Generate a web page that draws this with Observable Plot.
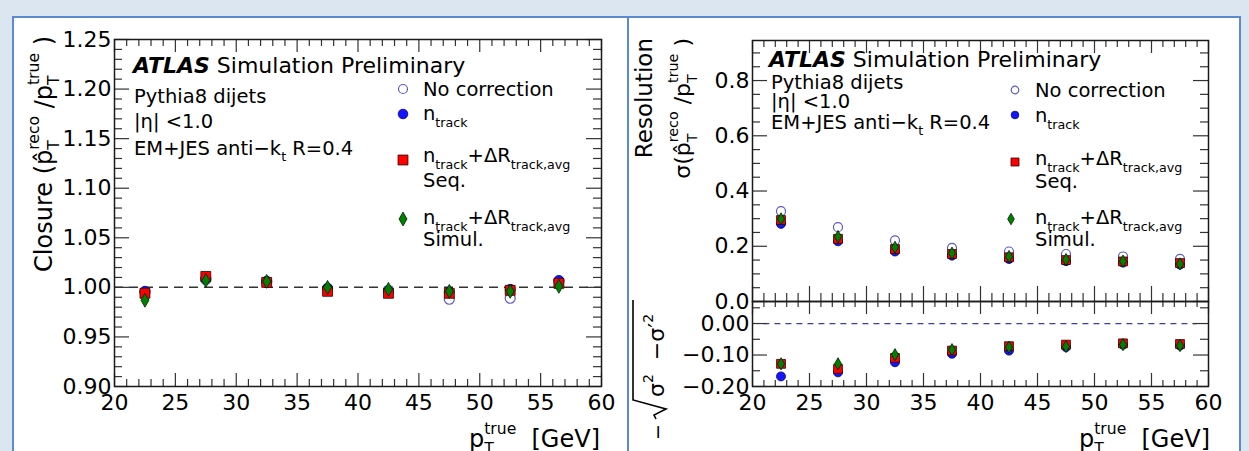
<!DOCTYPE html>
<html><head><meta charset="utf-8">
<script src="https://cdn.jsdelivr.net/npm/d3@7"></script>
<script src="https://cdn.jsdelivr.net/npm/@observablehq/plot@0.6"></script>
<style>
body{margin:0;background:#dce6f1;}
#page{position:relative;width:1249px;height:451px;overflow:hidden;background:#dce6f1;font-family:"DejaVu Sans";}
.panel{position:absolute;background:#fff;border:2px solid #5b8ad0;box-sizing:border-box;}
#page svg{position:absolute;left:0;top:0;}
</style></head><body><div id="page">
<div class="panel" style="left:12px;top:16px;width:617px;height:445px"></div>
<div class="panel" style="left:627px;top:16px;width:614px;height:445px"></div>
</div>
<script>
// ---------------- data ----------------
const xLeft  = [22.5, 27.5, 32.5, 37.5, 42.5, 47.5, 52.5, 56.5];
const closureNoCorr = [0.995, 1.008, 1.006, 0.999, 0.997, 0.988, 0.989, 1.006];
const closureNtrack = [0.996, 1.009, 1.006, 0.999, 0.996, 0.995, 0.998, 1.007];
const closureSeq    = [0.994, 1.011, 1.005, 0.996, 0.994, 0.994, 0.997, 1.004];
const closureSimul  = [0.987, 1.007, 1.006, 1.000, 0.998, 0.996, 0.996, 1.001];

const xRight = [22.5, 27.5, 32.5, 37.5, 42.5, 47.5, 52.5, 57.5];
const resNoCorr = [0.327, 0.269, 0.221, 0.194, 0.181, 0.172, 0.163, 0.154];
const resNtrack = [0.281, 0.218, 0.181, 0.166, 0.154, 0.146, 0.141, 0.134];
const resSeq    = [0.295, 0.227, 0.190, 0.172, 0.160, 0.150, 0.145, 0.139];
const resSimul  = [0.299, 0.235, 0.196, 0.175, 0.163, 0.152, 0.146, 0.136];

const diffNtrack = [-0.168, -0.155, -0.123, -0.096, -0.086, -0.075, -0.067, -0.070];
const diffSeq    = [-0.128, -0.144, -0.109, -0.086, -0.072, -0.067, -0.063, -0.065];
const diffSimul  = [-0.128, -0.128, -0.099, -0.083, -0.075, -0.073, -0.067, -0.070];

// tick labels
const xTicks = [20, 25, 30, 35, 40, 45, 50, 55, 60];
const closureTicks = [0.90, 0.95, 1.00, 1.05, 1.10, 1.15, 1.20, 1.25];
const resTicks = [0.0, 0.2, 0.4, 0.6, 0.8];
const diffTicks = [-0.20, -0.10, 0.00];

// minor ticks
const xMinor = d3.range(20, 60.01, 1);
const closureMinor = d3.range(0.90, 1.2501, 0.01);
const resMinor = d3.range(0, 0.95, 0.05);
const diffMinor = [-0.15, -0.05, 0.05];

// ---------------- helpers ----------------
const page = document.getElementById("page");
const svgStyle = "position:absolute;left:0;top:0;background:transparent;overflow:visible;font-family:'DejaVu Sans';font-size:22px;color:#000;";
const pts = (xs, ys) => xs.map((x, i) => ({x, y: ys[i]}));

function ticks(xMaj, xMin, yMaj, yMin, FW, FH, L) {
  const s = {stroke: "#333", strokeWidth: 1.2};
  const notIn = (arr) => (d) => !arr.some(v => Math.abs(v - d) < 1e-9);
  const xm = xMin.filter(notIn(xMaj)), ym = yMin.filter(notIn(yMaj));
  const out = [];
  if (L.bottom) {
    out.push(Plot.tickX(xMaj, {x: d => d, insetTop: FH - L.bottom[0], ...s}));
    out.push(Plot.tickX(xm, {x: d => d, insetTop: FH - L.bottom[1], ...s}));
  }
  if (L.top) {
    out.push(Plot.tickX(xMaj, {x: d => d, insetBottom: FH - L.top[0], ...s}));
    out.push(Plot.tickX(xm, {x: d => d, insetBottom: FH - L.top[1], ...s}));
  }
  out.push(Plot.tickY(yMaj, {y: d => d, insetRight: FW - L.y[0], ...s}));
  out.push(Plot.tickY(ym, {y: d => d, insetRight: FW - L.y[1], ...s}));
  out.push(Plot.tickY(yMaj, {y: d => d, insetLeft: FW - L.y[0], ...s}));
  out.push(Plot.tickY(ym, {y: d => d, insetLeft: FW - L.y[1], ...s}));
  return out;
}

const sty = {
  open:  {symbol: "circle", fill: "none", stroke: "#5a5ac8", strokeWidth: 1.2},
  blue:  {symbol: "circle", fill: "#1414ff", stroke: "#00007a", strokeWidth: 0.8},
  red:   {symbol: "square", fill: "#ff0000", stroke: "#300000", strokeWidth: 0.8},
  green: {symbol: "diamond", fill: "#008000", stroke: "#002000", strokeWidth: 0.8}
};

// ---------------- left: closure ----------------
const L = {l: 114, r: 601, t: 39, b: 386};
const leftPlot = Plot.plot({
  width: 1249, height: 451,
  marginLeft: L.l, marginRight: 1249 - L.r, marginTop: L.t, marginBottom: 451 - L.b,
  style: svgStyle,
  x: {domain: [20, 60]},
  y: {domain: [0.90, 1.25]},
  marks: [
    Plot.ruleY([1.0], {x1: 20, x2: 60, stroke: "#333", strokeWidth: 1.5, strokeDasharray: "9,6"}),
    ...ticks(xTicks, xMinor, closureTicks, closureMinor, L.r - L.l, L.b - L.t,
             {bottom: [13, 7], top: [13, 7], y: [15, 8]}),
    Plot.dot(pts(xLeft, closureNoCorr), {x: "x", y: "y", r: 5, ...sty.open}),
    Plot.dot(pts(xLeft, closureNtrack), {x: "x", y: "y", r: 5, ...sty.blue}),
    Plot.dot(pts(xLeft, closureSeq), {x: "x", y: "y", r: 5.6, ...sty.red}),
    Plot.dot(pts(xLeft, closureSimul), {x: "x", y: "y", r: 4.2, ...sty.green}),
    Plot.frame({stroke: "#1a1a1a", strokeWidth: 1.5}),
    Plot.axisX({ticks: xTicks, tickSize: 0, tickPadding: 8, tickFormat: d => d, label: null, fontSize: 22}),
    Plot.axisY({ticks: closureTicks, tickSize: 0, tickPadding: 3, tickFormat: d3.format(".2f"), label: null, fontSize: 22})
  ]
});
page.appendChild(leftPlot);

// ---------------- right upper: resolution ----------------
const RU = {l: 752, r: 1208, t: 40, b: 301};
const ruPlot = Plot.plot({
  width: 1249, height: 451,
  marginLeft: RU.l, marginRight: 1249 - RU.r, marginTop: RU.t, marginBottom: 451 - RU.b,
  style: svgStyle,
  x: {domain: [20, 60], axis: null},
  y: {domain: [0, 0.945]},
  marks: [
    ...ticks(xTicks, xMinor, resTicks, resMinor, RU.r - RU.l, RU.b - RU.t,
             {bottom: [15, 8], top: [13, 7], y: [15, 8]}),
    Plot.dot(pts(xRight, resNoCorr), {x: "x", y: "y", r: 4.5, ...sty.open}),
    Plot.dot(pts(xRight, resNtrack), {x: "x", y: "y", r: 4.5, ...sty.blue}),
    Plot.dot(pts(xRight, resSeq), {x: "x", y: "y", r: 5, ...sty.red}),
    Plot.dot(pts(xRight, resSimul), {x: "x", y: "y", r: 3.7, ...sty.green}),
    Plot.frame({stroke: "#1a1a1a", strokeWidth: 1.5}),
    Plot.axisY({ticks: resTicks, tickSize: 0, tickPadding: 3, tickFormat: d3.format(".1f"), label: null, fontSize: 22})
  ]
});
page.appendChild(ruPlot);

// ---------------- right lower: difference ----------------
const RL = {l: 752, r: 1208, t: 301, b: 386};
const rlPlot = Plot.plot({
  width: 1249, height: 451,
  marginLeft: RL.l, marginRight: 1249 - RL.r, marginTop: RL.t, marginBottom: 451 - RL.b,
  style: svgStyle,
  x: {domain: [20, 60]},
  y: {domain: [-0.20, 0.07]},
  marks: [
    Plot.ruleY([0], {x1: 21, x2: 59, stroke: "#3c3cb4", strokeWidth: 1.3, strokeDasharray: "6,5"}),
    ...ticks(xTicks, xMinor, diffTicks, diffMinor, RL.r - RL.l, RL.b - RL.t,
             {bottom: [13, 6], top: [13, 6], y: [15, 8]}),
    Plot.dot(pts(xRight, diffNtrack), {x: "x", y: "y", r: 4.5, ...sty.blue}),
    Plot.dot(pts(xRight, diffSeq), {x: "x", y: "y", r: 5, ...sty.red}),
    Plot.dot(pts(xRight, diffSimul), {x: "x", y: "y", r: 3.7, ...sty.green}),
    Plot.frame({stroke: "#1a1a1a", strokeWidth: 1.5}),
    Plot.axisX({ticks: xTicks, tickSize: 0, tickPadding: 8, tickFormat: d => d, label: null, fontSize: 22}),
    Plot.axisY({ticks: diffTicks, tickSize: 0, tickPadding: 3, tickFormat: d3.format(".2f"), label: null, fontSize: 22})
  ]
});
page.appendChild(rlPlot);

// ---------------- text overlay ----------------
const over = d3.select(page).append("svg")
  .attr("width", 1249).attr("height", 451)
  .attr("style", "position:absolute;left:0;top:0;overflow:visible;font-family:'DejaVu Sans';");

function rich(x, y, parts, o = {}) {
  const size = o.size || 20;
  const sc = o.script || 0.65;
  const g = over.append("g");
  const inner = g.append("g");
  let cx = 0;
  const add = (t, px, py, fs, ex = {}) => {
    const el = inner.append("text").attr("x", px).attr("y", py)
      .attr("font-size", fs).attr("fill", "#000").style("white-space", "pre").text(t);
    if (ex.weight) el.attr("font-weight", ex.weight);
    if (ex.italic) el.attr("font-style", "italic");
    return el.node().getComputedTextLength();
  };
  for (const p of parts) {
    if (typeof p === "string") cx += add(p, cx, 0, size);
    else if (p.sub !== undefined || p.sup !== undefined) {
      let w = 0;
      if (p.sup) w = Math.max(w, add(p.sup, cx, -(o.supShift || 0.5) * size, sc * size));
      if (p.sub) w = Math.max(w, add(p.sub, cx, (o.subShift || 0.3) * size, sc * size));
      cx += w;
    } else cx += add(p.t, cx, 0, p.size || size, p);
  }
  if (o.anchor === "end") inner.attr("transform", `translate(${-cx},0)`);
  g.attr("transform", `translate(${x},${y})` + (o.rotate ? ` rotate(${o.rotate})` : ""));
  return cx;
}

function marker(kind, x, y, r) {
  const s = sty[kind];
  over.append("path")
    .attr("transform", `translate(${x},${y})`)
    .attr("d", d3.symbol(s.symbol === "circle" ? d3.symbolCircle : s.symbol === "square" ? d3.symbolSquare : d3.symbolDiamond, Math.PI * r * r)())
    .attr("fill", s.fill).attr("stroke", s.stroke).attr("stroke-width", s.strokeWidth);
}

const nDR = ["n", {sub: "track"}, "+ΔR", {sub: "track,avg"}];

// left panel info + legend
rich(133, 73, [{t: "ATLAS", weight: "bold", italic: true}, " Simulation Preliminary"], {size: 22});
rich(134, 103, ["Pythia8 dijets"], {size: 19.5});
rich(134, 128, ["|η| <1.0"], {size: 19.5});
rich(134, 155, ["EM+JES anti−k", {sub: "t"}, " R=0.4"], {size: 19.5, subShift: 0.3});
marker("open", 403, 89, 4.5);
marker("blue", 403, 114, 4.8);
marker("red", 403, 160, 5.6);
marker("green", 403, 219, 4.2);
rich(423, 96, ["No correction"], {size: 19.5});
rich(423, 120, ["n", {sub: "track"}], {size: 19.5, subShift: 0.35});
rich(423, 162, nDR, {size: 19.5, subShift: 0.35});
rich(423, 187, ["Seq."], {size: 19.5});
rich(423, 224, nDR, {size: 19.5, subShift: 0.35});
rich(423, 246, ["Simul."], {size: 19.5});

// right panel info + legend
rich(769, 67, [{t: "ATLAS", weight: "bold", italic: true}, " Simulation Preliminary"], {size: 22});
rich(771, 89, ["Pythia8 dijets"], {size: 19.5});
rich(771, 108, ["|η| <1.0"], {size: 19.5});
rich(771, 129, ["EM+JES anti−k", {sub: "t"}, " R=0.4"], {size: 19.5, subShift: 0.3});
marker("open", 1015, 90, 3.8);
marker("blue", 1015, 115, 3.8);
marker("red", 1015, 162, 4.5);
marker("green", 1011, 219, 3.5);
rich(1035, 97, ["No correction"], {size: 19.5});
rich(1035, 122, ["n", {sub: "track"}], {size: 19.5, subShift: 0.35});
rich(1035, 165, nDR, {size: 19.5, subShift: 0.35});
rich(1035, 188, ["Seq."], {size: 19.5});
rich(1035, 224, nDR, {size: 19.5, subShift: 0.35});
rich(1035, 246, ["Simul."], {size: 19.5});

// axis titles
const xTitle = ["p", {sub: "T", sup: "true"}, "  [GeV]"];
rich(600, 447, xTitle, {size: 24, anchor: "end", supShift: 0.55, subShift: 0.3});
rich(1210, 447, xTitle, {size: 24, anchor: "end", supShift: 0.55, subShift: 0.3});

rich(52, 36, ["Closure (p\u0302", {sub: "T", sup: "reco"}, " /p", {sub: "T", sup: "true"}, " )"],
     {size: 24, anchor: "end", rotate: -90, supShift: 0.55, subShift: 0.3});
rich(652, 38, ["Resolution"], {size: 23, anchor: "end", rotate: -90});
rich(690, 38, ["σ(p\u0302", {sub: "T", sup: "reco"}, " /p", {sub: "T", sup: "true"}, " )"],
     {size: 22, anchor: "end", rotate: -90, supShift: 0.55, subShift: 0.3});

// lower title: −√(σ² − σ'²), rotated
{
  const g = over.append("g").attr("transform", "translate(664,445) rotate(-90)");
  g.append("text").attr("x", 5).attr("y", 0).attr("font-size", 19).text("−");
  g.append("path").attr("d", "M26,-8 L30,-10 L36,2 L45,-31 L145,-31")
    .attr("fill", "none").attr("stroke", "#000").attr("stroke-width", 1.6);
  const t = g.append("text").attr("x", 48).attr("y", 0).attr("font-size", 22).style("white-space", "pre");
  t.append("tspan").text("σ");
  t.append("tspan").attr("font-size", 14).attr("dy", -11).text("2");
  t.append("tspan").attr("dy", 11).text("  −σ′");
  t.append("tspan").attr("font-size", 14).attr("dy", -11).text("2");
}
</script></body></html>
